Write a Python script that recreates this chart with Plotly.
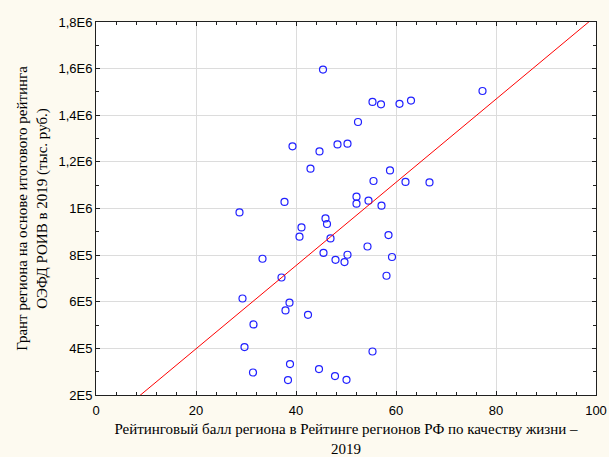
import plotly.graph_objects as go

# Data
quality_score = [45.4, 55.3, 57.0, 60.7, 63.0, 52.4, 39.3, 44.7, 48.3, 50.3,
                 42.9, 58.8, 55.5, 61.9, 52.1, 52.1, 54.5, 57.1, 37.7, 28.7,
                 45.9, 46.2, 41.1, 77.3, 66.7, 58.5, 40.7, 46.9, 45.5, 54.3,
                 50.3, 47.9, 49.7, 59.2, 33.3, 58.1, 37.1, 29.3, 38.7, 37.9,
                 42.4, 31.5, 29.7, 55.3, 38.8, 44.6, 31.4, 47.8, 50.1, 38.4]
grant = [1596000, 1457000, 1447000, 1449000, 1463000, 1371000, 1266500, 1245000, 1275000, 1278000,
         1171000, 1163500, 1118000, 1114000, 1050600, 1020600, 1033500, 1012000, 1028000, 983000,
         957500, 933500, 919000, 1504000, 1112000, 886000, 879000, 871700, 810000, 837000,
         801700, 780000, 770000, 792000, 784500, 711600, 704000, 614000, 596000, 562700,
         544000, 502600, 405600, 386700, 332600, 311000, 296600, 281000, 265000, 264000]

fit_intercept = 41135
fit_slope = 17850
fit_x = [0, 100]
fit_y = [fit_intercept + fit_slope * v for v in fit_x]

y_tickvals = [200000, 400000, 600000, 800000, 1000000, 1200000, 1400000, 1600000, 1800000]
y_ticktext = ["2E5", "4E5", "6E5", "8E5", "1E6", "1,2E6", "1,4E6", "1,6E6", "1,8E6"]
x_tickvals = [0, 20, 40, 60, 80, 100]

x_title = "Рейтинговый балл региона в Рейтинге регионов РФ по качеству жизни –<br>2019"
y_title = "Грант региона на основе итогового рейтинга<br>ОЭФД РОИВ в 2019 (тыс. руб.)"

fig = go.Figure()
fig.add_trace(go.Scatter(
    x=quality_score, y=grant, mode="markers",
    marker=dict(symbol="circle-open", size=7, color="#2020FF", line=dict(width=1.2, color="#2020FF")),
    showlegend=False, hoverinfo="x+y"))
fig.add_trace(go.Scatter(
    x=fit_x, y=fit_y, mode="lines",
    line=dict(color="#FF0000", width=1), showlegend=False))

axis_common = dict(
    showline=True, linecolor="#202020", linewidth=1, mirror="allticks",
    ticks="inside", ticklen=4, tickcolor="#202020",
    showgrid=True, gridcolor="#DCDCDC", gridwidth=1, zeroline=False,
    automargin=False,
    tickfont=dict(family="Liberation Sans, Arial", size=13, color="#000000"),
)

fig.update_layout(
    width=609, height=457,
    margin=dict(l=96, r=13, t=22, b=62),
    paper_bgcolor="#FDFAF0", plot_bgcolor="#FFFFFF",
    xaxis=dict(range=[0, 100], tickvals=x_tickvals, ticklabelstandoff=3,
               minor=dict(dtick=4, ticks="inside", ticklen=3, tickcolor="#202020", showgrid=False),
               title=dict(text=x_title, font=dict(family="Liberation Serif, Times New Roman", size=15, color="#000000"), standoff=13),
               **axis_common),
    yaxis=dict(range=[200000, 1800000], tickvals=y_tickvals, ticktext=y_ticktext,
               minor=dict(dtick=100000, tick0=200000, ticks="inside", ticklen=3, tickcolor="#202020", showgrid=False),
               title=dict(text=y_title, font=dict(family="Liberation Serif, Times New Roman", size=15, color="#000000"), standoff=7),
               **axis_common),
)

fig.write_html("out.html", config={"displayModeBar": False},
               post_script="document.body.style.margin='0';")
